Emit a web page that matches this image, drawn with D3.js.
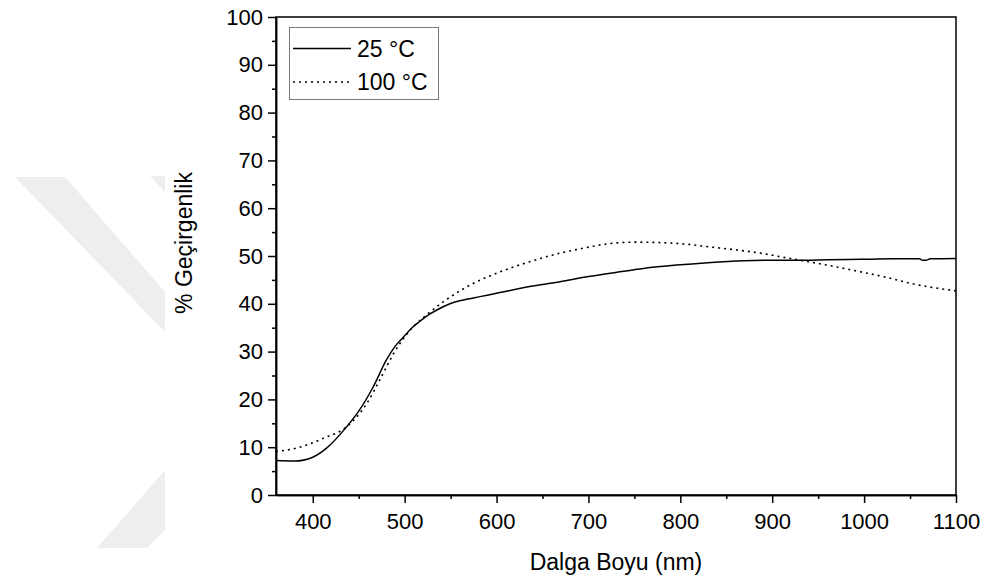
<!DOCTYPE html>
<html>
<head>
<meta charset="utf-8">
<script src="https://cdn.jsdelivr.net/npm/d3@7"></script>
<style>
  body { margin: 0; background: #fff; }
  svg { display: block; font-family: "Liberation Sans", Arial, sans-serif; }
  .axis path, .axis line { stroke: #000; stroke-width: 1.5; }
  .axis text { font-size: 22px; fill: #000; font-family: "Liberation Sans", Arial, sans-serif; }
</style>
</head>
<body>
<script>
// Transmission spectra (wavelength nm, % transmission)
var wl25 = [360, 380, 400, 415, 437, 451, 466, 480, 490, 499, 508, 517, 526, 535, 548, 564, 582, 600, 636, 669, 700, 731, 760, 796, 830, 869, 900, 934, 960, 996, 1030, 1060, 1064, 1067, 1072, 1100];
var t25  = [7.2, 7.1, 7.9, 9.8, 14.3, 17.8, 22.7, 28.2, 31.2, 33.1, 35.0, 36.4, 37.7, 38.7, 39.9, 40.8, 41.5, 42.2, 43.6, 44.6, 45.7, 46.6, 47.4, 48.1, 48.6, 49.0, 49.1, 49.1, 49.2, 49.3, 49.4, 49.4, 49.1, 49.1, 49.4, 49.5];

var wl100 = [360, 382, 412, 437, 459, 473, 488, 506, 524, 542, 571, 600, 636, 669, 691, 723, 750, 778, 805, 832, 860, 887, 910, 934, 965, 996, 1025, 1050, 1075, 1100];
var t100  = [9.1, 9.8, 11.9, 14.3, 19.2, 24.1, 29.6, 34.5, 37.7, 40.4, 43.9, 46.4, 48.8, 50.6, 51.5, 52.6, 52.9, 52.8, 52.5, 51.9, 51.3, 50.6, 49.8, 49.0, 47.9, 46.7, 45.5, 44.3, 43.4, 42.7];

var xTicks = [400, 500, 600, 700, 800, 900, 1000, 1100];
var xMinor = [450, 550, 650, 750, 850, 950, 1050];
var yTicks = [0, 10, 20, 30, 40, 50, 60, 70, 80, 90, 100];
var yMinor = [5, 15, 25, 35, 45, 55, 65, 75, 85, 95];

var seriesNames = ["25 \u00B0C", "100 \u00B0C"];

var width = 983, height = 581;
var plot = { left: 276, right: 956, top: 17, bottom: 495 };

var svg = d3.select("body").append("svg")
    .attr("width", width)
    .attr("height", height);

// faint background watermark
var wm = [
  [[15,177],[65,177],[165,292],[165,332]],
  [[150,176],[165,176],[165,192]],
  [[97,548],[147,548],[165,530],[165,470]]
];
svg.selectAll(".wm")
    .data(wm)
  .enter().append("path")
    .attr("class", "wm")
    .attr("d", function(d) { return "M" + d.join("L") + "Z"; })
    .attr("fill", "#eeeeee");

var xScale = d3.scaleLinear().domain([360, 1100]).range([plot.left, plot.right]);
var yScale = d3.scaleLinear().domain([0, 100]).range([plot.bottom, plot.top]);

// frame
svg.append("rect")
    .attr("x", plot.left).attr("y", plot.top)
    .attr("width", plot.right - plot.left).attr("height", plot.bottom - plot.top)
    .attr("fill", "none").attr("stroke", "#000").attr("stroke-width", 1.5);

// axes
svg.append("g")
    .attr("class", "axis")
    .attr("transform", "translate(0," + plot.bottom + ")")
    .call(d3.axisBottom(xScale).tickValues(xTicks).tickFormat(d3.format("d"))
        .tickSize(8).tickPadding(10).tickSizeOuter(0));
svg.append("g")
    .attr("class", "axis")
    .attr("transform", "translate(0," + plot.bottom + ")")
    .call(d3.axisBottom(xScale).tickValues(xMinor).tickSize(4).tickFormat("").tickSizeOuter(0));

svg.append("g")
    .attr("class", "axis")
    .attr("transform", "translate(" + plot.left + ",0)")
    .call(d3.axisLeft(yScale).tickValues(yTicks).tickFormat(d3.format("d"))
        .tickSize(8).tickPadding(5).tickSizeOuter(0));
svg.append("g")
    .attr("class", "axis")
    .attr("transform", "translate(" + plot.left + ",0)")
    .call(d3.axisLeft(yScale).tickValues(yMinor).tickSize(4).tickFormat("").tickSizeOuter(0));

// axis titles
svg.append("text")
    .attr("x", (plot.left + plot.right) / 2)
    .attr("y", 570)
    .attr("text-anchor", "middle")
    .attr("font-size", 23)
    .text("Dalga Boyu (nm)");

svg.append("text")
    .attr("transform", "translate(192,243) rotate(-90)")
    .attr("text-anchor", "middle")
    .attr("font-size", 23)
    .text("% Geçirgenlik");

// curves
var line = d3.line()
    .x(function(d) { return xScale(d[0]); })
    .y(function(d) { return yScale(d[1]); })
    .curve(d3.curveMonotoneX);

var data25 = d3.zip(wl25, t25);
var data100 = d3.zip(wl100, t100);

svg.append("path")
    .datum(data25)
    .attr("d", line)
    .attr("fill", "none")
    .attr("stroke", "#000")
    .attr("stroke-width", 1.5);

svg.append("path")
    .datum(data100)
    .attr("d", line)
    .attr("fill", "none")
    .attr("stroke", "#000")
    .attr("stroke-width", 1.6)
    .attr("stroke-dasharray", "2,4");

// legend
var lg = svg.append("g");
lg.append("rect")
    .attr("x", 289.5).attr("y", 27.5)
    .attr("width", 149).attr("height", 72)
    .attr("fill", "#fff").attr("stroke", "#777").attr("stroke-width", 1);

var styles = [null, "2,4"];
seriesNames.forEach(function(name, i) {
  var yy = 48.5 + i * 33.5;
  lg.append("line")
      .attr("x1", 293).attr("x2", 351)
      .attr("y1", yy).attr("y2", yy)
      .attr("stroke", "#000")
      .attr("stroke-width", 1.5)
      .attr("stroke-dasharray", styles[i]);
  lg.append("text")
      .attr("x", 357)
      .attr("y", yy)
      .attr("dy", "0.36em")
      .attr("font-size", 23)
      .text(name);
});
</script>
</body>
</html>
